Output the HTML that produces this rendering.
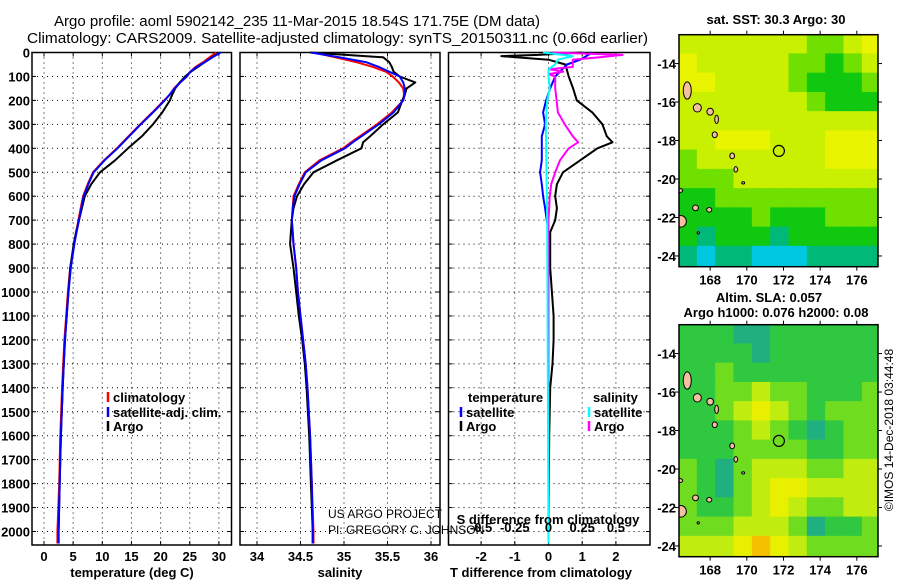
<!DOCTYPE html>
<html><head><meta charset="utf-8">
<style>
body{margin:0;background:#fff;}
svg{display:block;font-family:"Liberation Sans",sans-serif;}
</style></head>
<body>
<svg id="fig" width="900" height="580" viewBox="0 0 900 580">
<g id="titles">
<text x="54" y="26" font-size="15" textLength="486" lengthAdjust="spacingAndGlyphs">Argo profile: aoml 5902142_235 11-Mar-2015 18.54S 171.75E (DM data)</text>
<text x="27" y="43" font-size="15" textLength="621" lengthAdjust="spacingAndGlyphs">Climatology: CARS2009. Satellite-adjusted climatology: synTS_20150311.nc (0.66d earlier)</text>
</g>
<g id="panels"></g>
<g id="maps"></g>
<text x="328" y="518" font-size="12" fill="#000">US ARGO PROJECT</text>
<text x="328" y="534" font-size="12" fill="#000">PI: GREGORY C. JOHNSON</text>
<text transform="translate(893,430) rotate(-90)" text-anchor="middle" font-size="12">©IMOS 14-Dec-2018 03:44:48</text>
</svg>
<script>
// ---------- data ----------
const depths = [0,20,40,60,80,100,125,150,175,200,250,300,350,375,400,450,500,550,600,650,700,750,800,900,1000,1100,1200,1300,1400,1600,1800,2000,2050];
const tempArgo = [30.2,28.8,27.6,26.4,25.2,24.2,23.3,22.5,22.0,21.6,20.3,18.7,16.8,15.6,14.4,12.2,9.6,8.1,7.0,6.5,6.0,5.5,5.1,4.5,4.2,3.9,3.6,3.4,3.2,2.9,2.7,2.5,2.5];
const tempClim = [29.5,28.4,27.3,26.0,25.1,24.5,23.3,22.3,21.6,20.6,18.6,16.5,14.5,13.5,12.5,10.3,8.4,7.5,6.7,6.3,5.9,5.5,5.2,4.5,4.1,3.8,3.5,3.3,3.1,2.8,2.6,2.3,2.3];
const tempSat = [30.3,28.9,27.6,26.2,25.1,24.5,23.4,22.4,21.6,20.7,18.7,16.6,14.6,13.6,12.6,10.4,8.5,7.6,6.8,6.4,6.0,5.6,5.2,4.6,4.2,3.9,3.6,3.4,3.2,2.9,2.7,2.5,2.5];
const salArgo = [34.61,35.45,35.52,35.55,35.57,35.64,35.82,35.72,35.70,35.67,35.62,35.45,35.30,35.22,35.20,34.92,34.65,34.54,34.46,34.42,34.40,34.39,34.38,34.42,34.45,34.48,34.52,34.55,34.57,34.60,34.62,34.64,34.64];
const salClim = [34.65,34.90,35.14,35.33,35.48,35.56,35.63,35.68,35.69,35.68,35.55,35.38,35.18,35.08,34.99,34.72,34.55,34.48,34.42,34.41,34.40,34.41,34.42,34.45,34.47,34.50,34.53,34.56,34.58,34.61,34.63,34.65,34.65];
const salSat = [34.62,34.95,35.25,35.40,35.52,35.64,35.68,35.70,35.70,35.68,35.57,35.40,35.20,35.10,35.01,34.74,34.56,34.49,34.43,34.41,34.40,34.41,34.42,34.45,34.47,34.50,34.53,34.56,34.58,34.61,34.63,34.64,34.64];
const dTargoDepths = [0,10,15,30,50,100,150,200,250,300,350,375,400,450,500,550,600,650,700,750,800,900,1000,1100,1200,1300,1400,1600,2000,2050];
const dTargo = [1.0,-0.3,-1.4,0.0,0.5,0.6,0.73,0.84,1.3,1.6,1.73,1.9,1.45,0.94,0.43,0.25,0.2,0.25,0.2,0.05,0.05,0.05,0.1,0.15,0.15,0.12,0.05,0.02,0.0,0.0];
const dTsatDepths = [0,30,50,100,150,200,250,300,350,400,450,500,550,600,650,700,750,1000,1500,2000,2050];
const dTsat = [1.3,0.94,0.55,0.2,0.05,-0.07,-0.16,-0.1,-0.2,-0.2,-0.2,-0.25,-0.2,-0.16,-0.1,-0.05,0.0,0.0,0.0,0.0,0.0];
const dSargoDepths = [0,10,20,30,60,70,80,90,100,150,200,250,300,350,375,400,450,500,550,600,700,2050];
const dSargo = [0.03,0.55,0.38,0.18,0.18,0.01,0.11,0.0,0.05,0.05,0.06,0.07,0.12,0.18,0.22,0.15,0.085,0.05,0.02,0.01,0.0,0.0];
const dSsatDepths = [0,15,30,50,70,100,150,200,300,700,2050];
const dSsat = [-0.04,0.18,0.07,0.05,0.0,0.0,0.01,-0.01,-0.02,-0.01,0.0];
const depthTicks = [0,100,200,300,400,500,600,700,800,900,1000,1100,1200,1300,1400,1500,1600,1700,1800,1900,2000];
const tempTicks = [0,5,10,15,20,25,30];
const salTicks = ["34","34.5","35","35.5","36"];
const dTTicks = ["-2","-1","0","1","2"];
const dSTicks = ["-0.5","-0.25","0","0.25","0.5"];
// map fields (rows: lat -12.5 .. -24.5 by 1 deg, cols: lon 166.3 .. 177.1)
const sstField = [
[5,5,5,5,5,5,5,4,4,5,6],
[6,5,5,5,5,5,4,4,3,4,5],
[6,6,5,5,5,5,4,3,3,3,4],
[5,5,5,5,5,5,5,4,3,3,3],
[5,5,5,5,5,5,5,5,5,5,5],
[5,5,6,6,6,5,5,5,6,6,6],
[4,5,5,5,5,5,5,5,6,6,6],
[4,4,4,5,5,5,5,5,5,5,5],
[3,3,4,4,4,4,4,4,4,4,4],
[3,3,3,3,4,3,3,3,4,4,4],
[3,2,3,3,3,2,3,3,3,3,3],
[2,1,2,2,1,1,1,2,2,2,2]];
const slaField = [
[3,3,3,2,2,3,3,3,3,3,3],
[3,3,3,3,2,3,3,3,3,3,3],
[3,3,4,3,3,3,3,3,3,3,3],
[3,3,4,4,5,4,4,3,3,3,4],
[3,3,4,5,6,5,4,3,4,4,4],
[3,3,3,4,5,4,3,2,3,4,4],
[3,3,3,4,4,4,4,3,3,4,4],
[4,3,2,4,5,5,5,4,4,5,5],
[4,3,2,4,5,6,6,5,5,5,5],
[4,3,3,4,5,6,5,4,4,5,5],
[4,4,4,5,5,5,4,2,3,3,4],
[5,5,5,6,7,6,5,4,4,4,4]];
const lonTicks = [168,170,172,174,176];
const latTicks = [-14,-16,-18,-20,-22,-24];
const islandLon = [166.75,167.3,168.0,168.25,168.35,169.2,169.4,169.8,166.35,167.2,167.95,166.4,167.35];
const islandLat = [-15.4,-16.3,-16.5,-17.7,-16.9,-18.8,-19.5,-20.2,-20.6,-21.5,-21.6,-22.2,-22.8];
const islandRx = [0.22,0.22,0.18,0.14,0.1,0.13,0.1,0.08,0.15,0.16,0.14,0.3,0.06];
const islandRy = [0.45,0.22,0.18,0.15,0.22,0.15,0.14,0.06,0.1,0.15,0.12,0.3,0.06];
const floatLon = 171.75, floatLat = -18.54;

// ---------- helpers ----------
const NS = "http://www.w3.org/2000/svg";
function mk(tag, attrs, parent){const e=document.createElementNS(NS,tag);for(const k in attrs)e.setAttribute(k,attrs[k]);parent.appendChild(e);return e;}
const panelsG = document.getElementById('panels');
const mapsG = document.getElementById('maps');
const top0 = 52.5, pxPer100 = 23.95, bottom = 545;
const yD = d => top0 + d/100*pxPer100;

function panel(name, x0, x1, xs, gridVals){
  const g = mk('g',{},panelsG);
  
  
  depthTicks.forEach(d=>{const l=mk('line',{x1:x0,x2:x1,y1:yD(d),y2:yD(d),stroke:'#000','stroke-width':1,'stroke-dasharray':'1 4'},g);
    
    
    mk('line',{x1:x0,x2:x0+4,y1:yD(d),y2:yD(d),stroke:'#000'},g);
    mk('line',{x1:x1-4,x2:x1,y1:yD(d),y2:yD(d),stroke:'#000'},g);});
  gridVals.forEach(v=>{const x=xs(v);const l=mk('line',{x1:x,x2:x,y1:top0,y2:bottom,stroke:'#000','stroke-width':1,'stroke-dasharray':'1 4'},g);
    
    
    mk('line',{x1:x,x2:x,y1:bottom-4,y2:bottom,stroke:'#000'},g);
    mk('line',{x1:x,x2:x,y1:top0,y2:top0+4,stroke:'#000'},g);});
  const r=mk('rect',{x:x0,y:top0,width:x1-x0,height:bottom-top0,fill:'none',stroke:'#000','stroke-width':1.5},g);
  
  
  return g;
}
function line(g, xs, vals, ds, color, name, w){
  const pts = vals.map((v,i)=>xs(v).toFixed(1)+','+yD(ds[i]).toFixed(1)).join(' ');
  const p = mk('polyline',{points:pts,fill:'none',stroke:color,'stroke-width':w||2,'stroke-linejoin':'round'},g);
  
  
}
function txt(g, x, y, s, size, anchor, name, bold, color){
  const t = mk('text',{x:x,y:y,'font-size':size,'text-anchor':anchor||'start','font-weight':bold?'bold':'normal',fill:color||'#000'},g);
  t.textContent = s;
  
  
  return t;
}

depthTicks.forEach(d=>{txt(panelsG,30,yD(d)+5,String(d),13,'end','depth-tick-label',true);});

// Panel 1: temperature
const xT = t => 44 + t*5.83;
const g1 = panel('temperature-panel',32,231.5,xT,tempTicks);
line(g1,xT,tempClim,depths,'#ff0000','temp-climatology-line');
line(g1,xT,tempArgo,depths,'#000000','temp-argo-line');
line(g1,xT,tempSat,depths,'#0000ff','temp-satellite-line');
tempTicks.forEach(t=>txt(g1,xT(t),561,String(t),13,'middle','temp-tick-label',true));
txt(g1,132,577,'temperature (deg C)',13,'middle','temp-axis-title',true);

// Panel 2: salinity
const xS = s => 257 + (s-34)*87;
const g2 = panel('salinity-panel',240,440,xS,salTicks.map(Number));
line(g2,xS,salClim,depths,'#ff0000','sal-climatology-line');
line(g2,xS,salArgo,depths,'#000000','sal-argo-line');
line(g2,xS,salSat,depths,'#0000ff','sal-satellite-line');
salTicks.forEach(t=>txt(g2,xS(Number(t)),561,t,13,'middle','sal-tick-label',true));
txt(g2,340,577,'salinity',13,'middle','sal-axis-title',true);

// Panel 3: differences
const xDT = t => 548.5 + t*33.7;
const xDS = s => 548.5 + s*134.8;
const g3 = panel('difference-panel',448.5,650,xDT,dTTicks.map(Number));
line(g3,xDT,dTargo,dTargoDepths,'#000000','dT-argo-line');
line(g3,xDT,dTsat,dTsatDepths,'#0000ff','dT-satellite-line');
line(g3,xDS,dSargo,dSargoDepths,'#ff00ff','dS-argo-line');
line(g3,xDS,dSsat,dSsatDepths,'#00ffff','dS-satellite-line');
dTTicks.forEach(t=>txt(g3,xDT(Number(t)),561,t,13,'middle','dT-tick-label',true));
dSTicks.forEach(t=>txt(g3,xDS(Number(t)),532,t,13,'middle','dS-tick-label',true));
txt(g3,548,524,'S difference from climatology',13,'middle','dS-axis-title',true);
txt(g3,541,577,'T difference from climatology',13,'middle','dT-axis-title',true);

function legend(g,x,y,color,label,name){
  const l=mk('line',{x1:x,x2:x,y1:y-10,y2:y,stroke:color,'stroke-width':2.5},g);
  
  
  txt(g,x+5,y,label,13,'start',name,true);
}
const lg1 = mk('g',{},panelsG);


legend(lg1,108,402,'#ff0000','climatology','legend-climatology');
legend(lg1,108,417,'#0000ff','satellite-adj. clim.','legend-satellite');
legend(lg1,108,431,'#000000','Argo','legend-argo');
const lg3 = mk('g',{},panelsG);


txt(lg3,468,402,'temperature',13,'start','legend-temperature-header',true);
legend(lg3,461,417,'#0000ff','satellite','legend-t-satellite');
legend(lg3,461,431,'#000000','Argo','legend-t-argo');
txt(lg3,593,402,'salinity',13,'start','legend-salinity-header',true);
legend(lg3,589,417,'#00ffff','satellite','legend-s-satellite');
legend(lg3,589,431,'#ff00ff','Argo','legend-s-argo');

// ---------- maps ----------
const mapL=679, mapR=878, lon0=166.3, pxLon=18.33, pxLat=19.24;
const sstColors=['#3090ff','#00c8e0','#00b878','#10c810','#70e000','#c8f000','#e8f400','#f8c000'];
const slaColors=['#3090ff','#00c8e0','#20b080','#30c840','#70dc20','#c0ec10','#e8f000','#f4c000'];
function drawMap(name, mTop, mBot, field, colors){
  const g = mk('g',{},mapsG);
  
  
  const mx = lon => mapL + (lon-lon0)*pxLon;
  const my = lat => mTop + (-12.5-lat)*pxLat;
  const clip = mk('clipPath',{id:name+'-clip'},g);
  mk('rect',{x:mapL,y:mTop,width:mapR-mapL,height:mBot-mTop},clip);
  const cg = mk('g',{'clip-path':'url(#'+name+'-clip)'},g);
  field.forEach((row,i)=>row.forEach((v,j)=>{
    const c=mk('rect',{x:mx(lon0+j)-0.5,y:my(-12.5-i)-0.5,width:pxLon+1,height:pxLat+1,fill:colors[v]},cg);
    
    
  }));
  islandLon.forEach((lo,k)=>{
    const e=mk('ellipse',{cx:mx(lo),cy:my(islandLat[k]),rx:islandRx[k]*pxLon,ry:islandRy[k]*pxLat,fill:'#f4c0a0',stroke:'#000','stroke-width':1},cg);
    
    
  });
  const c=mk('circle',{cx:mx(floatLon),cy:my(floatLat),r:5.5,fill:'none',stroke:'#000','stroke-width':1.2},g);
  
  
  const fr=mk('rect',{x:mapL,y:mTop,width:mapR-mapL,height:mBot-mTop,fill:'none',stroke:'#000','stroke-width':1.5},g);
  
  
  lonTicks.forEach(lo=>{const x=mx(lo);
    mk('line',{x1:x,x2:x,y1:mTop,y2:mTop-4,stroke:'#000'},g);
    mk('line',{x1:x,x2:x,y1:mBot,y2:mBot+4,stroke:'#000'},g);
    txt(g,x,mBot+18,String(lo),13,'middle','map-lon-label',true);});
  latTicks.forEach(la=>{const y=my(la);
    mk('line',{x1:mapL,x2:mapL-4,y1:y,y2:y,stroke:'#000'},g);
    mk('line',{x1:mapR,x2:mapR+4,y1:y,y2:y,stroke:'#000'},g);
    txt(g,676,y+5,String(la),13,'end','map-lat-label',true);});
  return g;
}
const m1 = drawMap('sst-map',34.7,266.7,sstField,sstColors);
txt(m1,776,24,'sat. SST: 30.3 Argo: 30',13,'middle','sst-map-title',true);
const m2 = drawMap('sla-map',324.7,556.7,slaField,slaColors);
txt(m2,769,302,'Altim. SLA: 0.057',13,'middle','sla-map-title',true);
txt(m2,776,317,'Argo h1000: 0.076 h2000: 0.08',13,'middle','sla-map-subtitle',true);
</script>
</body></html>
